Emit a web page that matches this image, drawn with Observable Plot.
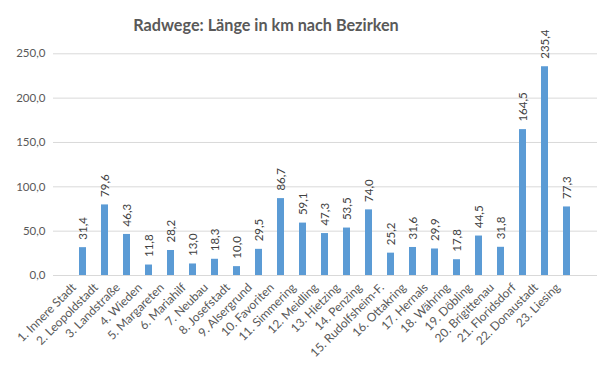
<!DOCTYPE html>
<html><head><meta charset="utf-8">
<script src="https://cdn.jsdelivr.net/npm/d3@7"></script>
<script src="https://cdn.jsdelivr.net/npm/@observablehq/plot@0.6"></script>
<style>
body{margin:0;background:#fff;font-family:Lato,"Open Sans",sans-serif;}
#wrap{position:relative;width:600px;height:368px;}
#title{position:absolute;top:15px;left:133px;width:266px;text-align:center;white-space:nowrap;font-size:16.2px;font-weight:bold;color:#595959;font-family:Lato,"Open Sans",sans-serif;}
</style></head>
<body><div id="wrap"><div id="title">Radwege: Länge in km nach Bezirken</div><div id="chart"></div></div>
<script>
const districts = ["1. Innere Stadt","2. Leopoldstadt","3. Landstraße","4. Wieden","5. Margareten","6. Mariahilf","7. Neubau","8. Josefstadt","9. Alsergrund","10. Favoriten","11. Simmering","12. Meidling","13. Hietzing","14. Penzing","15. Rudolfsheim-F.","16. Ottakring","17. Hernals","18. Währing","19. Döbling","20. Brigittenau","21. Floridsdorf","22. Donaustadt","23. Liesing"];
const km = [31.4,79.6,46.3,11.8,28.2,13.0,18.3,10.0,29.5,86.7,59.1,47.3,53.5,74.0,25.2,31.6,29.9,17.8,44.5,31.8,164.5,235.4,77.3];
const yTicks = [0,50,100,150,200,250];
const data = districts.map((d,i)=>({d, v: km[i]}));
const fmt = v => v.toFixed(1).replace(".", ",");
const chart = Plot.plot({
  width: 600, height: 368,
  marginTop: 53.3, marginBottom: 93, marginLeft: 53, marginRight: 3,
  style: {fontFamily: "Lato, 'Open Sans', sans-serif", fontSize: "11px", color: "#595959", background: "#fff"},
  x: {domain: districts, padding: 0.66, label: null},
  y: {domain: [0,250], ticks: yTicks, label: null},
  marks: [
    Plot.ruleY(yTicks, {stroke: "#d9d9d9", strokeWidth: 1}),
    Plot.barY(data, {x: "d", y: "v", fill: "#5B9BD5"}),
    Plot.text(data, {x: "d", y: "v", text: d => fmt(d.v), rotate: -90, textAnchor: "start", lineAnchor: "middle", dy: -8, fontSize: 11.5, fill: "#404040"}),
    Plot.axisY({ticks: yTicks, tickFormat: fmt, tickSize: 0, tickPadding: 8, fontSize: 11.5, label: null}),
    Plot.axisX({tickSize: 0, tickPadding: 10, tickRotate: -45, dx: -9, fontSize: 12, label: null})
  ]
});
document.getElementById("chart").appendChild(chart);
</script></body></html>
